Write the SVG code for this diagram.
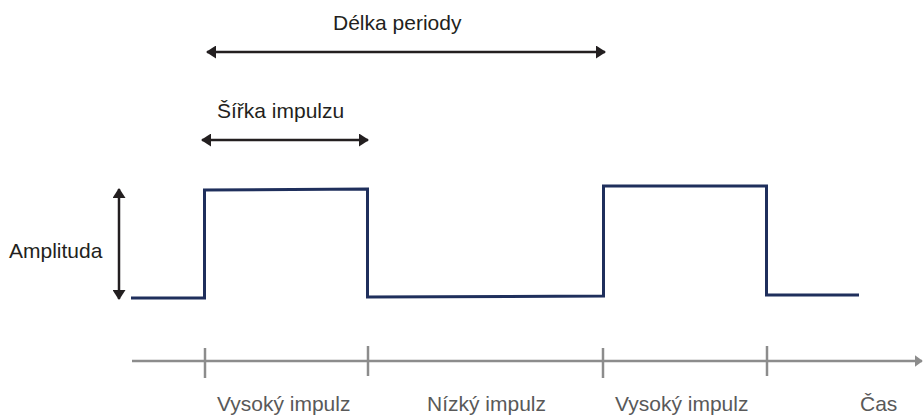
<svg xmlns="http://www.w3.org/2000/svg" width="923" height="416" viewBox="0 0 923 416">
<style>
.lbl{font-family:"Liberation Sans",Arial,sans-serif;font-size:21px;fill:#231f20}
.ax{font-family:"Liberation Sans",Arial,sans-serif;font-size:21px;fill:#595959}
.sig{fill:none;stroke:#1f2f5c;stroke-width:3;stroke-linejoin:miter}
.dim{stroke:#231f20;stroke-width:2.5;fill:none}
.axis{stroke:#8c8c8c;stroke-width:2.5;fill:none}
</style>
<defs>
<marker id="ah" viewBox="0 0 10 10" refX="9" refY="5" markerUnits="userSpaceOnUse" markerWidth="10" markerHeight="13" preserveAspectRatio="none" orient="auto-start-reverse">
<path d="M0,0 L10,5 L0,10 Z" fill="#231f20"/>
</marker>
<marker id="ga" viewBox="0 0 10 10" refX="9" refY="5" markerUnits="userSpaceOnUse" markerWidth="8" markerHeight="12" preserveAspectRatio="none" orient="auto">
<path d="M0,0 L10,5 L0,10 Z" fill="#8c8c8c"/>
</marker>
</defs>
<g id="signal">
<path class="sig" d="M131,298 L204.5,298 L204.5,190 L367.5,189 L367.5,297 L603.5,296 L603.5,186 L766.5,186 L766.5,295 L859,295"/>
</g>
<g id="time-axis">
<line class="axis" x1="132" y1="361" x2="922" y2="361" marker-end="url(#ga)"/>
<line class="axis" x1="205" y1="348" x2="205" y2="378"/>
<line class="axis" x1="368" y1="346" x2="368" y2="376"/>
<line class="axis" x1="603" y1="348" x2="603" y2="378"/>
<line class="axis" x1="767" y1="346" x2="767" y2="376"/>
</g>
<g id="connectors">
<line class="dim" x1="207" y1="52" x2="605" y2="52" marker-start="url(#ah)" marker-end="url(#ah)"/>
<line class="dim" x1="202" y1="140" x2="368" y2="140" marker-start="url(#ah)" marker-end="url(#ah)"/>
<line class="dim" x1="119" y1="189" x2="119" y2="299" marker-start="url(#ah)" marker-end="url(#ah)"/>
</g>
<g id="labels">
<text class="lbl" x="333" y="30">Délka periody</text>
<text class="lbl" x="217" y="118">Šířka impulzu</text>
<text class="lbl" x="9" y="258">Amplituda</text>
<text class="ax" x="217" y="411">Vysoký impulz</text>
<text class="ax" x="427" y="411">Nízký impulz</text>
<text class="ax" x="615" y="411">Vysoký impulz</text>
<text class="ax" x="860" y="411">Čas</text>
</g>
</svg>
